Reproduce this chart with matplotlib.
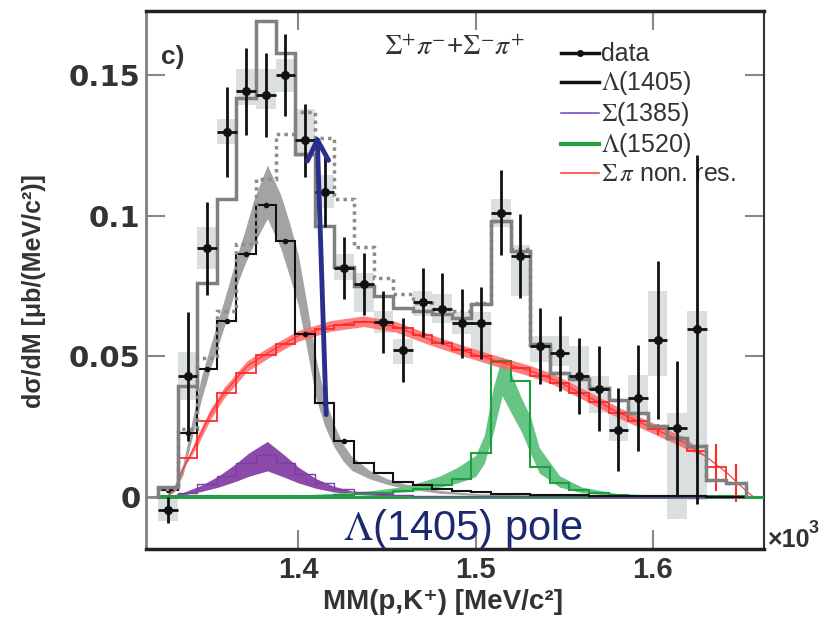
import numpy as np
import matplotlib
matplotlib.use("Agg")
import matplotlib.pyplot as plt
from matplotlib.lines import Line2D

plt.rcParams["font.family"] = ["Liberation Sans", "DejaVu Sans"]
plt.rcParams["mathtext.fontset"] = "stix"

# bin centres of MM(p,K+) in GeV/c^2 (axis shows MeV x10^3)
mass = [1.3264, 1.3375, 1.3485, 1.3596, 1.3706, 1.3817, 1.3927, 1.4038, 1.4148, 1.4259,
        1.4369, 1.4480, 1.4590, 1.4701, 1.4811, 1.4922, 1.5032, 1.5143, 1.5253, 1.5364,
        1.5474, 1.5585, 1.5695, 1.5806, 1.5916, 1.6027, 1.6137, 1.6248, 1.6358, 1.6469]

# data (first 28 bins)
data_y = [-0.0046, 0.0429, 0.0884, 0.1299, 0.1442, 0.1430, 0.1499, 0.1269, 0.1086, 0.0813,
          0.0757, 0.0623, 0.0523, 0.0692, 0.0670, 0.0618, 0.0618, 0.1011, 0.0856, 0.0536,
          0.0511, 0.0430, 0.0385, 0.0239, 0.0352, 0.0558, 0.0245, 0.0596]
data_err = [0.0045, 0.023, 0.0165, 0.016, 0.0155, 0.015, 0.0146, 0.013, 0.0125, 0.011,
            0.011, 0.011, 0.0115, 0.0122, 0.0125, 0.0123, 0.0127, 0.015, 0.015, 0.0135,
            0.0134, 0.0135, 0.0152, 0.0147, 0.0187, 0.028, 0.024, 0.062]
sys_up = [0.004, 0.0085, 0.0075, 0.0045, 0.008, 0.009, 0.006, 0.011, 0.006, 0.005,
          0.004, 0.004, 0.004, 0.004, 0.005, 0.004, 0.004, 0.005, 0.004, 0.0035,
          0.006, 0.0107, 0.0045, 0.006, 0.008, 0.0175, 0.0055, 0.0066]
sys_dn = [0.004, 0.0085, 0.0075, 0.0045, 0.005, 0.005, 0.006, 0.006, 0.006, 0.004,
          0.010, 0.004, 0.005, 0.005, 0.005, 0.004, 0.012, 0.005, 0.014, 0.0055,
          0.0045, 0.006, 0.0086, 0.004, 0.005, 0.0128, 0.0325, 0.0606]

# fit histograms (30 bins)
total_fit = [0.0037, 0.0394, 0.076, 0.106, 0.1418, 0.1694, 0.1579, 0.1221, 0.0965, 0.0817,
             0.0751, 0.0715, 0.0673, 0.066, 0.065, 0.0638, 0.0686, 0.0983, 0.0876, 0.0543,
             0.0442, 0.0418, 0.0388, 0.0346, 0.0299, 0.0251, 0.021, 0.018, 0.0061, 0.0049]
total_alt = [0.003, 0.024, 0.0495, 0.066, 0.090, 0.113, 0.129, 0.137, 0.1275, 0.106,
             0.089, 0.078, 0.072, 0.069, 0.067, 0.066, 0.069, 0.098, 0.088, 0.054,
             0.0442, 0.0418, 0.0388, 0.0346, 0.0299, 0.0251, 0.021, 0.018, 0.0061, 0.0049]
lam1405_h = [0.0025, 0.0227, 0.0456, 0.0626, 0.0864, 0.1039, 0.091, 0.0579, 0.0335, 0.0198,
             0.012, 0.0085, 0.0055, 0.0043, 0.003, 0.0022, 0.0016, 0.0012, 0.001, 0.0008,
             0.0007, 0.0006, 0.0005, 0.0004, 0.0003, 0.0003, 0.0002, 0.0002, 0.0001, 0.0001]
sig1385_h = [0.0003, 0.0015, 0.0045, 0.0075, 0.012, 0.015, 0.012, 0.008, 0.005, 0.003,
             0.0018, 0.0011, 0.0007, 0.0005, 0.0004, 0.0003, 0.0003, 0.0002, 0.0002, 0.0002,
             0.0002, 0.0002, 0.0001, 0.0001, 0.0001, 0.0001, 0.0001, 0.0001, 0.0001, 0.0001]
lam1520_h = [0.0002, 0.0002, 0.0002, 0.0002, 0.0003, 0.0003, 0.0003, 0.0004, 0.0005, 0.0006,
             0.0009, 0.0013, 0.002, 0.003, 0.0043, 0.0065, 0.0156, 0.0482, 0.0412, 0.0108,
             0.0049, 0.0025, 0.0013, 0.0007, 0.0004, 0.0002, 0.0002, 0.0002, 0.0002, 0.0002]
nonres_h = [0.0025, 0.014, 0.027, 0.037, 0.0442, 0.0504, 0.0543, 0.0579, 0.0598, 0.0612,
            0.0622, 0.0618, 0.0602, 0.0575, 0.0548, 0.0522, 0.050, 0.048, 0.046, 0.043,
            0.0405, 0.037, 0.0336, 0.030, 0.027, 0.024, 0.0205, 0.0165, 0.0105, 0.005]
nonres_err = [0, 0, 0, 0, 0, 0, 0, 0, 0, 0, 0, 0, 0, 0, 0, 0, 0, 0, 0, 0,
              0, 0, 0, 0, 0.002, 0.002, 0.003, 0.004, 0.0085, 0.0068]

# smooth bands: mass grid, centre, half width
lam1405_m = [1.325, 1.330, 1.335, 1.340, 1.345, 1.350, 1.355, 1.360, 1.365, 1.370, 1.375,
             1.3825, 1.390, 1.395, 1.400, 1.405, 1.410, 1.415, 1.420, 1.425, 1.430, 1.440,
             1.450, 1.460, 1.480, 1.500, 1.530, 1.570, 1.620, 1.650]
lam1405_c = [0.0, 0.003, 0.010, 0.024, 0.038, 0.049, 0.059, 0.069, 0.080, 0.089, 0.098,
             0.1085, 0.098, 0.088, 0.077, 0.060, 0.042, 0.030, 0.022, 0.016, 0.012, 0.008,
             0.0055, 0.0038, 0.0018, 0.0009, 0.0005, 0.0003, 0.0002, 0.0001]
lam1405_w = [0.0, 0.001, 0.002, 0.003, 0.004, 0.004, 0.0045, 0.005, 0.005, 0.006, 0.008,
             0.0095, 0.0095, 0.0095, 0.009, 0.008, 0.007, 0.005, 0.004, 0.003, 0.0025, 0.0015,
             0.001, 0.0008, 0.0005, 0.0003, 0.0002, 0.0001, 0.0001, 0.0]

sig1385_m = [1.325, 1.335, 1.345, 1.355, 1.365, 1.372, 1.3825, 1.392, 1.400, 1.410, 1.420,
             1.430, 1.440, 1.460, 1.500, 1.550, 1.600, 1.650]
sig1385_c = [0.0, 0.0012, 0.003, 0.0055, 0.0088, 0.0115, 0.0145, 0.011, 0.0078, 0.0048,
             0.0028, 0.0016, 0.001, 0.0004, 0.0002, 0.0001, 0.0001, 0.0001]

lam1520_m = [1.325, 1.400, 1.440, 1.460, 1.470, 1.480, 1.490, 1.500, 1.505, 1.510, 1.515,
             1.520, 1.526, 1.531, 1.536, 1.5475, 1.560, 1.580, 1.620, 1.655]
lam1520_c = [0.0, 0.0004, 0.0015, 0.0028, 0.004, 0.0055, 0.0078, 0.011, 0.017, 0.031, 0.043,
             0.037, 0.029, 0.022, 0.013, 0.0055, 0.0025, 0.0008, 0.0002, 0.0]
lam1520_w = [0.0, 0.0002, 0.0006, 0.001, 0.0015, 0.002, 0.0028, 0.0038, 0.005, 0.008, 0.007,
             0.007, 0.006, 0.0065, 0.0045, 0.002, 0.001, 0.0004, 0.0001, 0.0]

nonres_m = [1.325, 1.330, 1.335, 1.343, 1.350, 1.358, 1.371, 1.383, 1.400, 1.418, 1.437,
            1.455, 1.474, 1.493, 1.512, 1.531, 1.544, 1.563, 1.581, 1.600, 1.619, 1.630,
            1.642, 1.653, 1.657]
nonres_c = [0.0, 0.002, 0.010, 0.020, 0.029, 0.037, 0.0465, 0.0513, 0.0573, 0.0608, 0.0625,
            0.0605, 0.056, 0.052, 0.0483, 0.0448, 0.0418, 0.0358, 0.0299, 0.0245, 0.019, 0.0144,
            0.0085, 0.002, 0.0]

yticks = [0, 0.05, 0.1, 0.15]
ytick_labels = ["0", "0.05", "0.1", "0.15"]
xticks = [1.4, 1.5, 1.6]
xtick_labels = ["1.4", "1.5", "1.6"]

arrow_tail = (1.4157, 0.0293)
arrow_head = (1.4106, 0.1289)

mass = np.array(mass)
half = (mass[1] - mass[0]) / 2
edges = np.concatenate([mass - half, [mass[-1] + half]])
nd = len(data_y)
xd = mass[:nd]

fig = plt.figure(figsize=(8.29, 6.27), dpi=100)
ax = fig.add_axes([0.1761, 0.1244, 0.7455, 0.8581])
ax.set_xlim(1.314, 1.6628)
ax.set_ylim(-0.0185, 0.1728)

# systematic boxes
ax.bar(xd, np.array(sys_up) + np.array(sys_dn), bottom=np.array(data_y) - np.array(sys_dn),
       width=2 * half, color="#dcdfdf", zorder=1, linewidth=0)

# bands
ax.fill_between(lam1405_m, np.array(lam1405_c) - lam1405_w, np.array(lam1405_c) + lam1405_w,
                color="#a3a3a3", lw=0, zorder=2)
sc = np.array(sig1385_c)
ax.fill_between(sig1385_m, sc * 0.64, sc * 1.36, color="#8c4aab", lw=0, zorder=2)
ax.fill_between(lam1520_m, np.array(lam1520_c) - lam1520_w, np.array(lam1520_c) + lam1520_w,
                color="#66c485", lw=0, zorder=2)
nc = np.array(nonres_c)
ax.fill_between(nonres_m, nc - 0.0019 * (nc > 0.015), nc + 0.0019 * (nc > 0.015),
                color="#ff6868", lw=0, zorder=2, alpha=0.85)
ax.plot(nonres_m, nonres_c, color="#ff3030", lw=0.8, zorder=3)

# baseline
ax.axhline(0, color="#8a8a8a", lw=2, zorder=2)
ax.plot([edges[0], 1.6628], [0, 0], color="#22a045", lw=2, zorder=3)

# component histograms
ax.stairs(sig1385_h, edges, color="#7a3fa0", lw=1.0, zorder=3)
ax.stairs(lam1520_h, edges, color="#1e9e3e", lw=1.5, zorder=3)
ax.stairs(nonres_h, edges, color="#ff2a2a", lw=1.3, zorder=3)
ax.errorbar(mass, nonres_h, yerr=nonres_err, fmt="none", ecolor="#ff2a2a", elinewidth=1.5, zorder=3)
ax.stairs(lam1405_h, edges, color="#111111", lw=1.5, zorder=4)
ax.errorbar(mass[:10], lam1405_h[:10], xerr=half * 0.6, fmt="o", ms=3, color="#111111",
            elinewidth=1.2, zorder=4)

# total fits
ax.stairs(total_alt, edges, color="#8c8c8c", lw=2.5, linestyle=(0, (1, 1.2)), zorder=5)
ax.stairs(total_fit, edges, baseline=0, color="#808080", lw=2.5, zorder=5)

# data
ax.errorbar(xd, data_y, yerr=data_err, xerr=half, fmt="o", ms=5.5, color="#111111",
            elinewidth=2, capsize=0, zorder=7)

# arrow and labels
ax.annotate("", xy=arrow_head, xytext=arrow_tail,
            arrowprops=dict(arrowstyle="->,head_length=0.75,head_width=0.38",
                            color="#2a2f8c", lw=3.5, mutation_scale=20, shrinkA=0, shrinkB=0),
            zorder=8)
ax.text(1.4251, -0.0154, r"$\Lambda$(1405) pole", fontsize=30, color="#1b2a6e",
        ha="left", va="baseline", zorder=9, clip_on=False)
ax.text(0.025, 0.915, "c)", transform=ax.transAxes, fontsize=19, fontweight="bold",
        color="#333333", va="center")
ax.text(0.385, 0.932, r"$\Sigma^{+}\pi^{-}$+$\Sigma^{-}\pi^{+}$", transform=ax.transAxes,
        fontsize=20, color="#333333", va="center")

handles = [
    Line2D([], [], color="#111111", lw=2.5, marker="o", ms=4),
    Line2D([], [], color="#111111", lw=2.5),
    Line2D([], [], color="#7a4fc9", lw=1.2),
    Line2D([], [], color="#1e9e3e", lw=3),
    Line2D([], [], color="#ff4040", lw=1.2),
]
labels = ["data", r"$\mathit{\Lambda}$(1405)", r"$\Sigma$(1385)", r"$\mathit{\Lambda}$(1520)",
          r"$\Sigma\,\pi$ non. res."]
ax.legend(handles, labels, loc="upper left", bbox_to_anchor=(0.652, 0.965), frameon=False,
          fontsize=18, labelspacing=0.12, handlelength=1.5, handletextpad=0.1, borderpad=0,
          labelcolor="#333333")

# axes styling
ax.set_xticks(xticks)
ax.set_xticklabels(xtick_labels)
ax.set_yticks(yticks)
ax.set_yticklabels(ytick_labels)
ax.tick_params(direction="in", top=True, right=True, length=14, width=1.5, color="#888888",
               labelcolor="#333333")
ax.tick_params(axis="x", pad=5)
ax.tick_params(axis="y", pad=4)
for lab in ax.get_xticklabels():
    lab.set_fontweight("bold")
    lab.set_fontsize(21)
for lab in ax.get_yticklabels():
    lab.set_fontweight("bold")
    lab.set_fontsize(21)
    lab.set_family("DejaVu Sans")
ax.spines["top"].set_linewidth(2.5)
ax.spines["top"].set_color("#222222")
ax.spines["bottom"].set_linewidth(2.5)
ax.spines["bottom"].set_color("#222222")
ax.spines["left"].set_linewidth(2)
ax.spines["left"].set_color("#808080")
ax.spines["right"].set_linewidth(1.5)
ax.spines["right"].set_color("#333333")

ax.set_xlabel("MM(p,K⁺) [MeV/c²]", fontsize=20, fontweight="bold", color="#333333")
ax.xaxis.set_label_coords(0.48, -0.075)
ax.set_ylabel("dσ/dM [μb/(MeV/c²)]", fontsize=18, fontweight="bold", color="#333333")
ax.yaxis.set_label_coords(-0.162, 0.48)
fig.text(0.926, 0.127, "×10", fontsize=18, fontweight="bold", color="#333333",
         va="baseline")
fig.text(0.975, 0.150, "3", fontsize=13, fontweight="bold", color="#333333",
         va="baseline")

fig.savefig("out.png", dpi=100)
